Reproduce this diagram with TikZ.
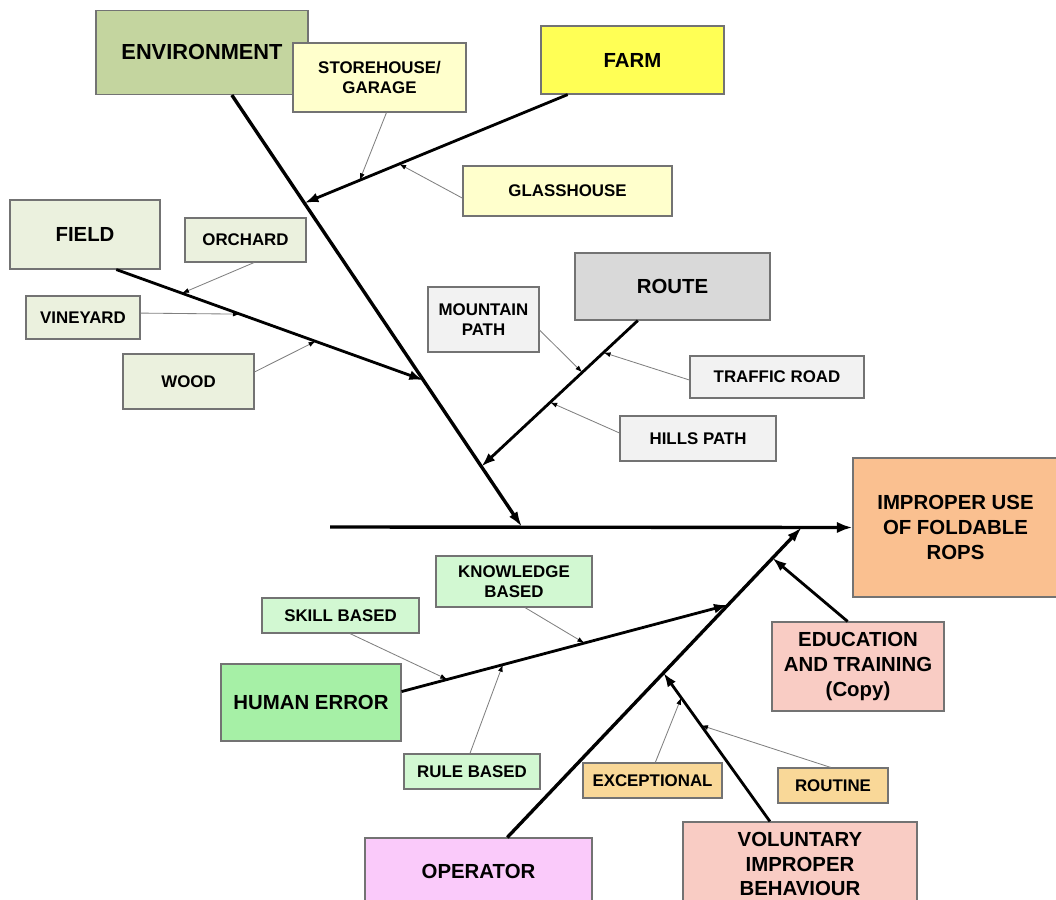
\documentclass[tikz,border=0pt]{standalone}
\usepackage{fontspec}
\setmainfont{Liberation Sans}
\usetikzlibrary{arrows.meta,calc}
\definecolor{envfill}{HTML}{C4D59F}
\definecolor{farmfill}{HTML}{FFFF55}
\definecolor{paleyellow}{HTML}{FFFFCC}
\definecolor{palegreen}{HTML}{EBF1DE}
\definecolor{routefill}{HTML}{D9D9D9}
\definecolor{palegrey}{HTML}{F2F2F2}
\definecolor{ropsfill}{HTML}{FAC090}
\definecolor{pinkfill}{HTML}{F9CCC4}
\definecolor{humanfill}{HTML}{A6F0A6}
\definecolor{mintfill}{HTML}{D2F8D2}
\definecolor{sandfill}{HTML}{F9D898}
\definecolor{operfill}{HTML}{FACAFA}

\begin{document}
\begin{tikzpicture}[x=0.025cm,y=-0.025cm,
    smallbox/.style={draw=black!55,line width=0.8pt,align=center,inner sep=0pt,
      font=\bfseries\fontsize{12}{14}\selectfont},
    bigbox/.style={smallbox,font=\bfseries\fontsize{14.5}{17.5}\selectfont},
    sz/.style 2 args={minimum width=#1*0.025cm,minimum height=#2*0.025cm},
    bone/.style={line width=2pt,-{Latex[length=10pt,width=7pt]}},
    twig/.style={draw=black!50,line width=0.6pt,-{Latex[length=5pt,width=3.5pt,color=black]}}]
    \clip (0,0) rectangle (1056,899);
    \useasboundingbox (0,0) rectangle (1056,899);

    % effect and spine
    \node[bigbox,fill=ropsfill,sz={205}{139}] (rops) at (955.5,527.5) {IMPROPER USE\\OF FOLDABLE\\ROPS};
    \coordinate (tail) at (330,527);
    \draw[line width=2.4pt,-{Latex[length=11pt,width=8pt]}] (tail) -- (rops.west);
    \coordinate (envhit) at (522,527);
    \coordinate (ophit) at (802,527);

    % environment branch
    \node[bigbox,fill=envfill,sz={212}{84},font=\bfseries\fontsize{15.5}{18}\selectfont] (env) at (202,52.5) {ENVIRONMENT};
    \coordinate (envtop) at ($(env.south west)!0.64!(env.south east)$);
    \draw[line width=2.4pt,-{Latex[length=11pt,width=7pt]}] (envtop) -- (envhit);

    \node[bigbox,fill=farmfill,sz={183}{68}] (farm) at (632.5,60) {FARM};
    \node[smallbox,fill=paleyellow,sz={173}{69}] (store) at (379.5,77.5) {STOREHOUSE/\\GARAGE};
    \node[smallbox,fill=paleyellow,sz={209}{50}] (glass) at (567.5,191) {GLASSHOUSE};
    \coordinate (farmtop) at ($(farm.south west)!0.148!(farm.south east)$);
    \coordinate (farmhit) at ($(envtop)!0.25!(envhit)$);
    \draw[bone] (farmtop) -- (farmhit);
    \draw[twig] ($(store.south west)!0.54!(store.south east)$) -- ($(farmtop)!0.79!(farmhit)$);
    \draw[twig] ($(glass.north west)!0.64!(glass.south west)$) -- ($(farmtop)!0.64!(farmhit)$);

    \node[bigbox,fill=palegreen,sz={150}{69}] (field) at (85,234.5) {FIELD};
    \node[smallbox,fill=palegreen,sz={121}{44}] (orchard) at (245.5,240) {ORCHARD};
    \node[smallbox,fill=palegreen,sz={114}{43}] (vineyard) at (83,317.5) {VINEYARD};
    \node[smallbox,fill=palegreen,sz={131}{55}] (wood) at (188.5,381.5) {WOOD};
    \coordinate (fieldtop) at ($(field.south west)!0.707!(field.south east)$);
    \coordinate (fieldhit) at ($(envtop)!0.66!(envhit)$);
    \draw[bone] (fieldtop) -- (fieldhit);
    \draw[twig] ($(orchard.south west)!0.57!(orchard.south east)$) -- ($(fieldtop)!0.214!(fieldhit)$);
    \draw[twig] ($(vineyard.north east)!0.4!(vineyard.south east)$) -- ($(fieldtop)!0.403!(fieldhit)$);
    \draw[twig] ($(wood.north east)!0.33!(wood.south east)$) -- ($(fieldtop)!0.649!(fieldhit)$);

    \node[bigbox,fill=routefill,sz={195}{67}] (route) at (672.5,286.5) {ROUTE};
    \node[smallbox,fill=palegrey,sz={111}{65}] (mountain) at (483.5,319.5) {MOUNTAIN\\PATH};
    \node[smallbox,fill=palegrey,sz={174}{42}] (traffic) at (777,377) {TRAFFIC ROAD};
    \node[smallbox,fill=palegrey,sz={156}{45}] (hills) at (698,438.5) {HILLS PATH};
    \coordinate (routetop) at ($(route.south west)!0.323!(route.south east)$);
    \coordinate (routehit) at ($(envtop)!0.86!(envhit)$);
    \draw[bone] (routetop) -- (routehit);
    \draw[twig] ($(mountain.north east)!0.66!(mountain.south east)$) -- ($(routetop)!0.355!(routehit)$);
    \draw[twig] ($(traffic.north west)!0.57!(traffic.south west)$) -- ($(routetop)!0.219!(routehit)$);
    \draw[twig] ($(hills.north west)!0.38!(hills.south west)$) -- ($(routetop)!0.56!(routehit)$);

    % operator branch
    \node[bigbox,fill=operfill,sz={227}{67}] (operator) at (478.5,871.5) {OPERATOR};
    \coordinate (optop) at ($(operator.north west)!0.626!(operator.north east)$);
    \draw[line width=2.4pt,-{Latex[length=11pt,width=7pt]}] (optop) -- (ophit);

    \node[bigbox,fill=humanfill,sz={180}{77}] (human) at (311,702.5) {HUMAN ERROR};
    \node[smallbox,fill=mintfill,sz={156}{51}] (knowledge) at (514,581.5) {KNOWLEDGE\\BASED};
    \node[smallbox,fill=mintfill,sz={157}{35}] (skill) at (340.5,615.5) {SKILL BASED};
    \node[smallbox,fill=mintfill,sz={136}{35}] (rule) at (472,771.5) {RULE BASED};
    \coordinate (humantop) at ($(human.north east)!0.36!(human.south east)$);
    \coordinate (humanhit) at ($(optop)!0.749!(ophit)$);
    \draw[bone] (humantop) -- (humanhit);
    \draw[twig] ($(skill.south west)!0.56!(skill.south east)$) -- ($(humantop)!0.14!(humanhit)$);
    \draw[twig] ($(knowledge.south west)!0.57!(knowledge.south east)$) -- ($(humantop)!0.56!(humanhit)$);
    \draw[twig] ($(rule.north west)!0.485!(rule.north east)$) -- ($(humantop)!0.31!(humanhit)$);

    \node[bigbox,fill=pinkfill,sz={172}{89}] (education) at (858,666.5) {EDUCATION\\AND TRAINING\\(Copy)};
    \draw[bone] ($(education.north west)!0.44!(education.north east)$) -- ($(optop)!0.9!(ophit)$);

    \node[bigbox,fill=pinkfill,sz={234}{84}] (voluntary) at (800,864) {VOLUNTARY\\IMPROPER\\BEHAVIOUR};
    \node[smallbox,fill=sandfill,sz={139}{35}] (exceptional) at (652.5,780.5) {EXCEPTIONAL};
    \node[smallbox,fill=sandfill,sz={110}{35}] (routine) at (833,785.5) {ROUTINE};
    \coordinate (voltop) at ($(voluntary.north west)!0.372!(voluntary.north east)$);
    \coordinate (volhit) at ($(optop)!0.53!(ophit)$);
    \draw[bone] (voltop) -- (volhit);
    \draw[twig] ($(exceptional.north west)!0.52!(exceptional.north east)$) -- ($(voltop)!0.833!(volhit)$);
    \draw[twig] ($(routine.north west)!0.48!(routine.north east)$) -- ($(voltop)!0.647!(volhit)$);
\end{tikzpicture}
\end{document}
